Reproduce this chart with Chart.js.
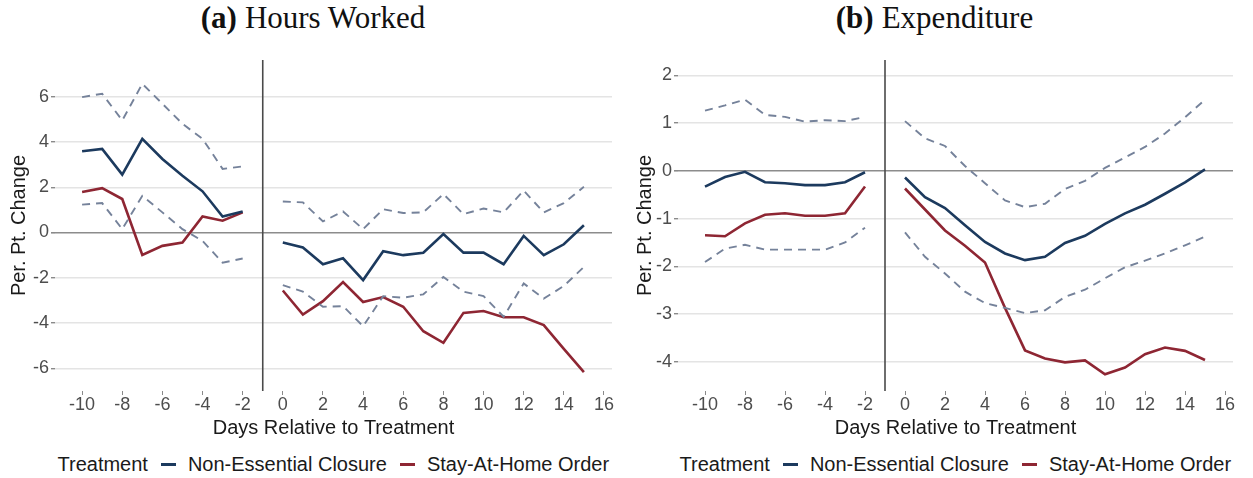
<!DOCTYPE html>
<html>
<head>
<meta charset="utf-8">
<script src="https://cdn.jsdelivr.net/npm/chart.js@4/dist/chart.umd.min.js"></script>
<style>
    html, body { margin: 0; padding: 0; background: #fff; }
    #wrap { position: relative; width: 1253px; height: 478px; overflow: hidden; font-family: "Liberation Sans", Arial, sans-serif; }
    .panel-title { position: absolute; top: 0; height: 40px; line-height: 36px; text-align: center; font-family: "Liberation Serif", "DejaVu Serif", serif; font-size: 31px; color: #111; white-space: nowrap; }
    .panel-title b { font-weight: bold; margin-right: 8px; }
    canvas { position: absolute; top: 40px; }
    .legend { position: absolute; top: 452px; height: 24px; display: flex; align-items: center; font-size: 20px; color: #1a1a1a; white-space: nowrap; }
    .legend .sw { display: inline-block; width: 15px; height: 3px; margin: 0 12px 0 13px; }
</style>
</head>
<body>
<div id="wrap">
    <div class="panel-title" style="left:0;width:626px;"><b>(a)</b>Hours Worked</div>
    <div class="panel-title" style="left:626px;width:617px;"><b>(b)</b>Expenditure</div>
    <canvas id="hoursChart" width="626" height="398" style="left:0;"></canvas>
    <canvas id="expChart" width="627" height="398" style="left:626px;"></canvas>
    <div class="legend" id="legendA"></div>
    <div class="legend" id="legendB"></div>
</div>
<script>
/* ---- data ---- */
const days = [-10, -9, -8, -7, -6, -5, -4, -3, -2, 0, 1, 2, 3, 4, 5, 6, 7, 8, 9, 10, 11, 12, 13, 14, 15];
const treatmentDay = -1;
const xTicks = [-10, -8, -6, -4, -2, 0, 2, 4, 6, 8, 10, 12, 14, 16];
const hoursYTicks = [-6, -4, -2, 0, 2, 4, 6];
const expYTicks = [-4, -3, -2, -1, 0, 1, 2];

// (a) Hours Worked
const hoursClosure = [3.59, 3.69, 2.56, 4.14, 3.25, 2.51, 1.82, 0.71, 0.93,
    -0.44, -0.66, -1.40, -1.14, -2.10, -0.83, -1.00, -0.89, -0.07, -0.89, -0.89, -1.40, -0.15, -1.00, -0.52, 0.32];
const hoursStayHome = [1.79, 1.96, 1.48, -0.99, -0.59, -0.44, 0.71, 0.52, 0.89,
    -2.56, -3.62, -3.03, -2.19, -3.07, -2.85, -3.28, -4.36, -4.87, -3.55, -3.47, -3.74, -3.74, -4.09, -5.14, -6.17];
const hoursUpper = [5.98, 6.13, 4.95, 6.57, 5.69, 4.80, 4.14, 2.81, 2.92,
    1.37, 1.33, 0.49, 0.93, 0.15, 1.03, 0.86, 0.89, 1.70, 0.81, 1.06, 0.89, 1.85, 0.89, 1.30, 2.02];
const hoursLower = [1.23, 1.30, 0.15, 1.62, 0.89, 0.15, -0.37, -1.33, -1.15,
    -2.32, -2.61, -3.28, -3.25, -4.14, -2.81, -2.88, -2.73, -1.96, -2.61, -2.81, -3.72, -2.25, -2.92, -2.36, -1.52];

// (b) Expenditure
const expClosure = [-0.33, -0.13, -0.02, -0.24, -0.26, -0.30, -0.30, -0.24, -0.03,
    -0.14, -0.55, -0.78, -1.14, -1.49, -1.73, -1.87, -1.80, -1.51, -1.36, -1.11, -0.89, -0.71, -0.48, -0.24, 0.03];
const expStayHome = [-1.35, -1.37, -1.10, -0.92, -0.89, -0.94, -0.94, -0.89, -0.33,
    -0.37, -0.81, -1.25, -1.57, -1.92, -2.87, -3.76, -3.93, -4.01, -3.97, -4.26, -4.12, -3.84, -3.70, -3.77, -3.96];
const expUpper = [1.26, 1.37, 1.49, 1.17, 1.13, 1.03, 1.06, 1.04, 1.13,
    1.04, 0.68, 0.52, 0.10, -0.26, -0.62, -0.76, -0.69, -0.38, -0.21, 0.06, 0.28, 0.50, 0.78, 1.12, 1.49];
const expLower = [-1.91, -1.63, -1.55, -1.65, -1.65, -1.65, -1.65, -1.50, -1.19,
    -1.29, -1.80, -2.15, -2.53, -2.77, -2.87, -2.98, -2.92, -2.64, -2.49, -2.25, -2.02, -1.88, -1.73, -1.56, -1.38];

const seriesNames = ['Non-Essential Closure', 'Stay-At-Home Order'];
const seriesColors = ['#1c3a5e', '#8e2633'];
const ciColor = '#75829a';

/* ---- helpers ---- */
// points with a break at the treatment day
function toPoints(vals) {
    const out = [];
    days.forEach((d, i) => {
        if (d === treatmentDay + 1) out.push({ x: treatmentDay, y: null });
        out.push({ x: d, y: vals[i] });
    });
    return out;
}

const treatLine = {
    id: 'treatLine',
    afterDatasetsDraw(chart) {
        const { ctx, chartArea, scales } = chart;
        const px = scales.x.getPixelForValue(treatmentDay);
        ctx.save();
        ctx.strokeStyle = '#4a4a4a';
        ctx.lineWidth = 1.6;
        ctx.beginPath();
        ctx.moveTo(px, chartArea.top);
        ctx.lineTo(px, chartArea.bottom);
        ctx.stroke();
        ctx.restore();
    }
};

function makeChart(id, opts) {
    const ds = (label, vals, color, dashed) => ({
        label, data: toPoints(vals), borderColor: color, backgroundColor: color,
        borderWidth: dashed ? 1.9 : 2.6, borderDash: dashed ? [8, 6] : [],
        pointRadius: 0, spanGaps: false, tension: 0
    });
    const tickFont = { family: 'Liberation Sans', size: 18, lineHeight: 1 };
    const titleFont = { family: 'Liberation Sans', size: 20, lineHeight: 1 };
    return new Chart(document.getElementById(id), {
        type: 'line',
        data: { datasets: [
            ds('upper', opts.upper, ciColor, true),
            ds('lower', opts.lower, ciColor, true),
            ds(seriesNames[0], opts.closure, seriesColors[0], false),
            ds(seriesNames[1], opts.stayHome, seriesColors[1], false)
        ]},
        options: {
            responsive: false, animation: false,
            layout: { padding: { top: 20, right: opts.padRight, bottom: 0, left: 0 } },
            plugins: { legend: { display: false }, tooltip: { enabled: false } },
            scales: {
                x: {
                    type: 'linear', min: -11.35, max: 16.4,
                    afterBuildTicks: s => { s.ticks = xTicks.map(v => ({ value: v })); },
                    grid: { drawOnChartArea: false, tickLength: 4, tickColor: '#8a8a8a' },
                    border: { display: false },
                    ticks: { color: '#4d4d4d', font: tickFont, padding: 1, maxRotation: 0, autoSkip: false },
                    title: { display: true, text: 'Days Relative to Treatment', color: '#1a1a1a', font: titleFont, padding: { top: 3, bottom: 0 } }
                },
                y: {
                    min: opts.yMin, max: opts.yMax,
                    afterBuildTicks: s => { s.ticks = opts.yTicks.map(v => ({ value: v })); },
                    afterFit: s => { s.width = opts.axisWidth; },
                    grid: {
                        color: c => c.tick && c.tick.value === 0 ? '#8c8c8c' : '#e4e4e4',
                        lineWidth: c => c.tick && c.tick.value === 0 ? 1.6 : 1.4,
                        tickLength: 4, tickColor: '#8a8a8a'
                    },
                    border: { display: false },
                    ticks: { color: '#4d4d4d', font: tickFont, padding: 2 },
                    title: { display: true, text: 'Per. Pt. Change', color: '#1a1a1a', font: titleFont, padding: { top: 9, bottom: 0 } }
                }
            }
        },
        plugins: [treatLine]
    });
}

function buildLegend(id, chart) {
    const el = document.getElementById(id);
    el.innerHTML = '<span>Treatment</span>' + seriesNames.map((n, i) =>
        `<span class="sw" style="background:${seriesColors[i]}"></span><span>${n}</span>`).join('');
    const area = chart.chartArea;
    const left = chart.canvas.offsetLeft + (area.left + area.right) / 2 - el.offsetWidth / 2;
    el.style.left = left + 'px';
}

const hoursChart = makeChart('hoursChart', {
    closure: hoursClosure, stayHome: hoursStayHome, upper: hoursUpper, lower: hoursLower,
    yMin: -7.0, yMax: 7.62, yTicks: hoursYTicks, axisWidth: 55, padRight: 14
});
const expChart = makeChart('expChart', {
    closure: expClosure, stayHome: expStayHome, upper: expUpper, lower: expLower,
    yMin: -4.61, yMax: 2.32, yTicks: expYTicks, axisWidth: 52, padRight: 20
});
buildLegend('legendA', hoursChart);
buildLegend('legendB', expChart);
</script>
</body>
</html>
